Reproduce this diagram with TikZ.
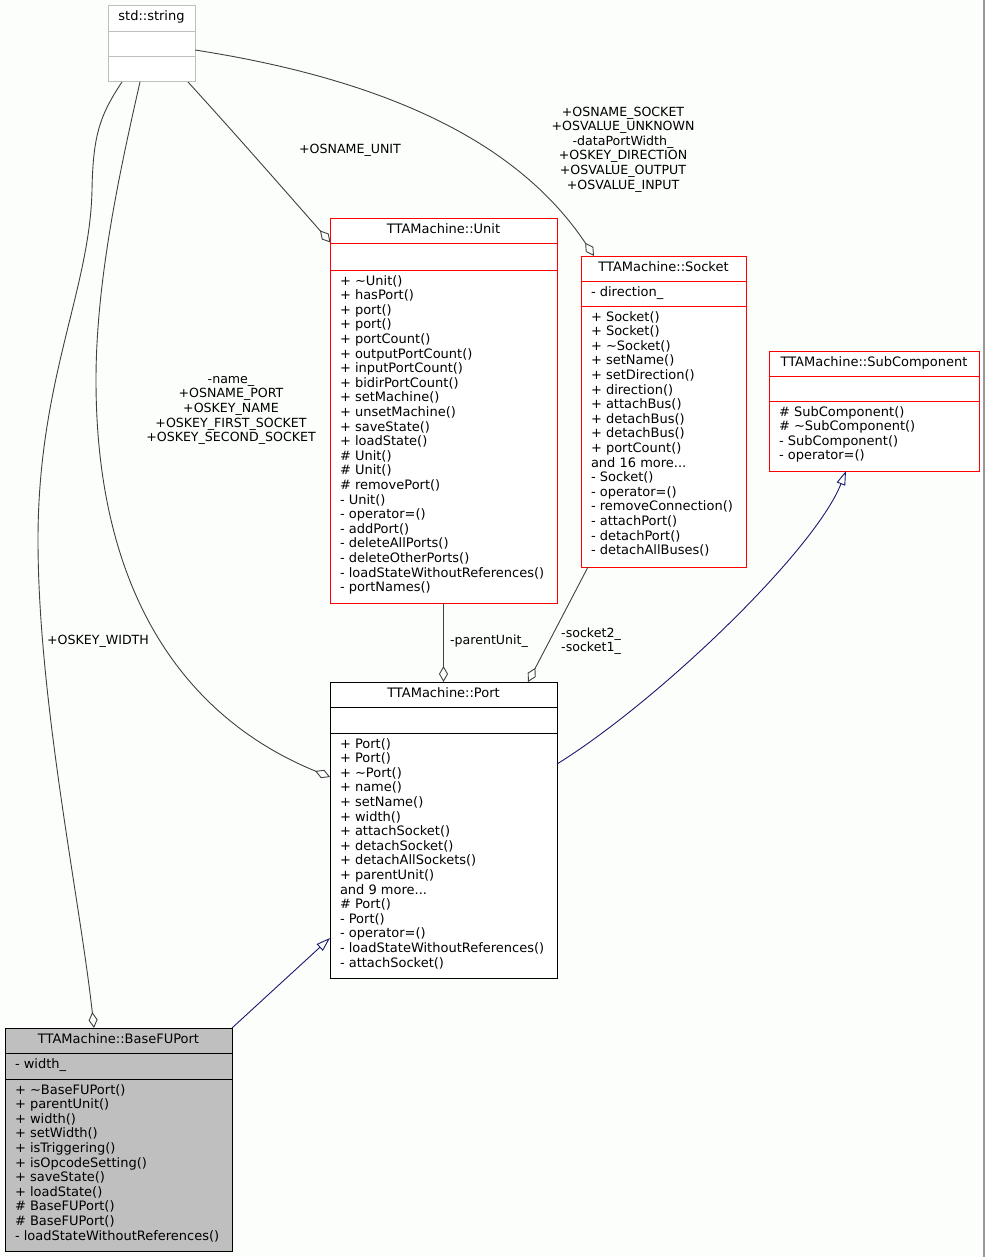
\documentclass[tikz,border=0pt]{standalone}
\usepackage{fontspec}
\setmainfont{DejaVu Sans}
\usetikzlibrary{arrows.meta}
\definecolor{edgegray}{HTML}{404040}
\definecolor{navyline}{HTML}{191970}
\definecolor{strgray}{HTML}{BFBFBF}
\definecolor{fugray}{HTML}{BFBFBF}
\definecolor{bgcol}{RGB}{252,254,252}
\newcommand\firstln{\rule{0pt}{10pt}}
\begin{document}
\begin{tikzpicture}[x=1pt,y=-1pt,
  every node/.style={font=\fontsize{13}{14.6}\selectfont, inner sep=0pt, outer sep=0pt},
  clsbox/.style={draw=#1, fill=white, line width=1pt, anchor=north west},
  ctitle/.style={anchor=base},
  cmembers/.style={anchor=north west, align=left},
  elabel/.style={align=center, font=\fontsize{12.6}{14.6}\selectfont},
  assoc/.style={draw=edgegray, line width=0.9pt, -{Diamond[open,length=16pt,width=9pt]}},
  inherit/.style={draw=navyline, line width=0.9pt, -{Triangle[open,length=14pt,width=9pt]}}]

\fill[bgcol] (0,0) rectangle (985,1257);
\useasboundingbox (0,0) rectangle (985,1257);
\draw[black!40, line width=1.5pt] (984.2,0) -- (984.2,1257);

% ---------- std::string
\node[clsbox=strgray, minimum width=87, minimum height=76] (str) at (108,6) {};
\draw[strgray, line width=1pt] (108,31.5) -- (195,31.5) (108,56.5) -- (195,56.5);
\node[ctitle] (str-t) at (151.5,21) {std::string};

% ---------- TTAMachine::Unit
\node[clsbox=red, minimum width=227, minimum height=384] (unit) at (330,219) {};
\draw[red, line width=1pt] (330,244) -- (557,244) (330,270) -- (557,270);
\node[ctitle] (unit-t) at (443.5,234) {TTAMachine::Unit};
\node[cmembers] (unit-m) at (340,275) {\firstln+ \textasciitilde Unit()\\+ hasPort()\\+ port()\\+ port()\\+ portCount()\\+ outputPortCount()\\+ inputPortCount()\\+ bidirPortCount()\\+ setMachine()\\+ unsetMachine()\\+ saveState()\\+ loadState()\\\# Unit()\\\# Unit()\\\# removePort()\\- Unit()\\- operator=()\\- addPort()\\- deleteAllPorts()\\- deleteOtherPorts()\\- loadStateWithoutReferences()\\- portNames()};

% ---------- TTAMachine::Socket
\node[clsbox=red, minimum width=165, minimum height=311] (sock) at (581,256) {};
\draw[red, line width=1pt] (581,281) -- (746,281) (581,306) -- (746,306);
\node[ctitle] (sock-t) at (663.5,271) {TTAMachine::Socket};
\node[cmembers] (sock-a) at (591,286) {\firstln- direction\_};
\node[cmembers] (sock-m) at (591,311) {\firstln+ Socket()\\+ Socket()\\+ \textasciitilde Socket()\\+ setName()\\+ setDirection()\\+ direction()\\+ attachBus()\\+ detachBus()\\+ detachBus()\\+ portCount()\\and 16 more...\\- Socket()\\- operator=()\\- removeConnection()\\- attachPort()\\- detachPort()\\- detachAllBuses()};

% ---------- TTAMachine::SubComponent
\node[clsbox=red, minimum width=210, minimum height=120] (sub) at (769,351) {};
\draw[red, line width=1pt] (769,376) -- (979,376) (769,401) -- (979,401);
\node[ctitle] (sub-t) at (874,366) {TTAMachine::SubComponent};
\node[cmembers] (sub-m) at (779,406) {\firstln\# SubComponent()\\\# \textasciitilde SubComponent()\\- SubComponent()\\- operator=()};

% ---------- TTAMachine::Port
\node[clsbox=black, minimum width=227, minimum height=296] (port) at (330,682) {};
\draw[black, line width=1pt] (330,707) -- (557,707) (330,733) -- (557,733);
\node[ctitle] (port-t) at (443.5,697) {TTAMachine::Port};
\node[cmembers] (port-m) at (340,738) {\firstln+ Port()\\+ Port()\\+ \textasciitilde Port()\\+ name()\\+ setName()\\+ width()\\+ attachSocket()\\+ detachSocket()\\+ detachAllSockets()\\+ parentUnit()\\and 9 more...\\\# Port()\\- Port()\\- operator=()\\- loadStateWithoutReferences()\\- attachSocket()};

% ---------- TTAMachine::BaseFUPort
\node[clsbox=black, fill=fugray, minimum width=227, minimum height=223] (bfu) at (5,1028) {};
\draw[black, line width=1pt] (5,1053) -- (232,1053) (5,1079) -- (232,1079);
\node[ctitle] (bfu-t) at (118.5,1043) {TTAMachine::BaseFUPort};
\node[cmembers] (bfu-a) at (15,1058) {\firstln- width\_};
\node[cmembers] (bfu-m) at (15,1084) {\firstln+ \textasciitilde BaseFUPort()\\+ parentUnit()\\+ width()\\+ setWidth()\\+ isTriggering()\\+ isOpcodeSetting()\\+ saveState()\\+ loadState()\\\# BaseFUPort()\\\# BaseFUPort()\\- loadStateWithoutReferences()};

% ---------- edges
\coordinate (strA) at (122,82);
\coordinate (strB) at (140,82);
\coordinate (strC) at (188,82);
\coordinate (strD) at (195,50);
\coordinate (bfuIn) at (94,1028);
\coordinate (portInB) at (330,777);
\coordinate (unitInC) at (330.5,242.5);
\coordinate (sockInD) at (594,256);
\coordinate (sockOut) at (588,567);
\coordinate (portInF) at (528,682);
\coordinate (portOutG) at (557,764);
\coordinate (subIn) at (846,471);
\coordinate (portInH) at (330,938);

\draw[assoc] (strA) .. controls (100,115) and (93,135) .. (92,190)
   .. controls (90,290) and (38,380) .. (38,540)
   .. controls (38,700) and (80,900) .. (bfuIn);
\node[elabel] (lblA) at (98,641) {+OSKEY\_WIDTH};

\draw[assoc] (strB) .. controls (120,170) and (96,280) .. (96,380)
   .. controls (96,600) and (190,720) .. (portInB);
\node[elabel] (lblB) at (231,410.5) {-name\_\\+OSNAME\_PORT\\+OSKEY\_NAME\\+OSKEY\_FIRST\_SOCKET\\+OSKEY\_SECOND\_SOCKET};

\draw[assoc] (strC) .. controls (230,128) and (280,185) .. (unitInC);
\node[elabel] (lblC) at (350,150) {+OSNAME\_UNIT};

\draw[assoc] (strD) .. controls (420,85) and (530,160) .. (sockInD);
\node[elabel] (lblD) at (623,149.5) {+OSNAME\_SOCKET\\+OSVALUE\_UNKNOWN\\-dataPortWidth\_\\+OSKEY\_DIRECTION\\+OSVALUE\_OUTPUT\\+OSVALUE\_INPUT};

\draw[assoc] (unit.south) -- (port.north);
\node[elabel] (lblE) at (489,641) {-parentUnit\_};

\draw[assoc] (sockOut) -- (portInF);
\node[elabel] (lblF) at (591,641) {-socket2\_\\-socket1\_};

\draw[inherit] (portOutG) .. controls (660,700) and (815,550) .. (subIn);
\draw[inherit] (bfu.north east) -- (portInH);

\end{tikzpicture}
\end{document}
